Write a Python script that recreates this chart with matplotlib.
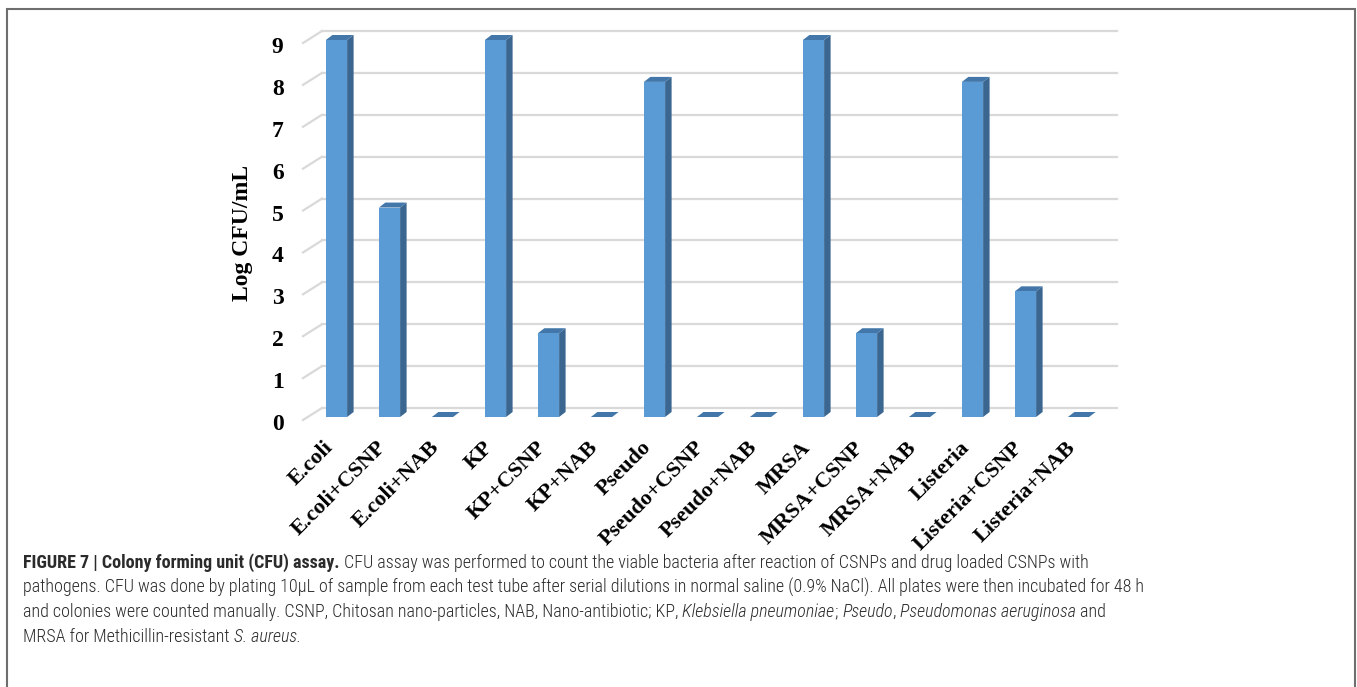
import numpy as np
import matplotlib.pyplot as plt
from matplotlib.patches import Polygon, Rectangle
import matplotlib.transforms as mtransforms

# data
categories = ['E.coli', 'E.coli+CSNP', 'E.coli+NAB', 'KP', 'KP+CSNP', 'KP+NAB',
              'Pseudo', 'Pseudo+CSNP', 'Pseudo+NAB', 'MRSA', 'MRSA+CSNP', 'MRSA+NAB',
              'Listeria', 'Listeria+CSNP', 'Listeria+NAB']
log_cfu = [9, 5, 0, 9, 2, 0, 8, 0, 0, 9, 2, 0, 8, 3, 0]
yticks = [0, 1, 2, 3, 4, 5, 6, 7, 8, 9]
ylabel = 'Log CFU/mL'

caption = [
    [("FIGURE 7 | Colony forming unit (CFU) assay.", 'bold', 'normal'),
     (" CFU assay was performed to count the viable bacteria after reaction of CSNPs and drug loaded CSNPs with", 'light', 'normal')],
    [("pathogens. CFU was done by plating 10\u03bcL of sample from each test tube after serial dilutions in normal saline (0.9% NaCl). All plates were then incubated for 48 h", 'light', 'normal')],
    [("and colonies were counted manually. CSNP, Chitosan nano-particles, NAB, Nano-antibiotic; KP, ", 'light', 'normal'),
     ("Klebsiella pneumoniae", 'light', 'italic'), ("; ", 'light', 'normal'),
     ("Pseudo", 'light', 'italic'), (", ", 'light', 'normal'),
     ("Pseudomonas aeruginosa", 'light', 'italic'), (" and", 'light', 'normal')],
    [("MRSA for Methicillin-resistant ", 'light', 'normal'), ("S. aureus.", 'light', 'italic')],
]

W, H = 1357, 687
fig = plt.figure(figsize=(W / 100, H / 100), dpi=100)
fig.patch.set_facecolor('white')

# plot area (front plane)
ax_l, ax_r, ax_t, ax_b = 310, 1105, 40, 417
ax = fig.add_axes([ax_l / W, 1 - ax_b / H, (ax_r - ax_l) / W, (ax_b - ax_t) / H])
ax.set_xlim(-0.5, len(categories) - 0.5)
ax.set_ylim(0, 9)
for s in ax.spines.values():
    s.set_visible(False)

px_x = len(categories) / (ax_r - ax_l)   # data units per pixel
px_y = 9 / (ax_b - ax_t)

front = '#5B9BD5'
side = '#3B6690'
top = '#4377AA'
grid_c = '#D9D9D9'

# back wall gridlines with 3d offset
wdx, wdy = 12 * px_x, 9 * px_y
x0, x1 = ax.get_xlim()
for y in yticks:
    ax.plot([x0 + wdx, x1 + wdx], [y + wdy, y + wdy], color=grid_c, lw=1.6,
            clip_on=False, zorder=1)
    ax.plot([x0 - 7 * px_x, x0 + wdx], [y - 3 * px_y, y + wdy], color=grid_c, lw=1.6,
            clip_on=False, zorder=1)

# 3d-looking bars
bw = 0.4
bdx, bdy = 6.5 * px_x, 5 * px_y
for i, v in enumerate(log_cfu):
    xl, xr = i - bw / 2, i + bw / 2
    sd = Polygon([(xr, 0), (xr + bdx, bdy), (xr + bdx, v + bdy), (xr, v)],
                 closed=True, facecolor=side, edgecolor='none', zorder=3, clip_on=False)
    tp = Polygon([(xl, v), (xl + bdx, v + bdy), (xr + bdx, v + bdy), (xr, v)],
                 closed=True, facecolor=top, edgecolor='none', zorder=3, clip_on=False)
    ax.add_patch(sd)
    ax.add_patch(tp)
    if v > 0:
        fr = Rectangle((xl, 0), bw, v, facecolor=front, edgecolor='none', zorder=4, clip_on=False)
        ax.add_patch(fr)

serif_bold = dict(family='Liberation Serif', weight='bold')

ax.set_yticks(yticks)
ax.set_yticklabels([str(t) for t in yticks], fontsize=17, **serif_bold)
ax.tick_params(axis='y', length=0, pad=19)
off = mtransforms.ScaledTranslation(0, -5 / 100, fig.dpi_scale_trans)
for lbl in ax.get_yticklabels():
    lbl.set_transform(lbl.get_transform() + off)

ax.set_xticks(range(len(categories)))
ax.set_xticklabels(categories, rotation=45, ha='right', va='center',
                   rotation_mode='anchor', fontsize=16, **serif_bold)
ax.tick_params(axis='x', length=0, pad=17)
offx = mtransforms.ScaledTranslation(-6 / 100, -4 / 100, fig.dpi_scale_trans)
for lbl in ax.get_xticklabels():
    lbl.set_transform(lbl.get_transform() + offx)

ax.set_ylabel(ylabel, fontsize=17, **serif_bold)
ax.yaxis.set_label_coords((253 - ax_l) / (ax_r - ax_l), (ax_b - 233) / (ax_b - ax_t))

# outer frame (open at the bottom)
frame = Rectangle((7 / W, -0.05), (1355 - 7) / W, 1 - 9 / H + 0.05, transform=fig.transFigure,
                  fill=False, edgecolor='#6E6E6E', lw=1.5, clip_on=False)
fig.add_artist(frame)

# caption, fitted to the width of the second line
cap_family = ['Roboto Condensed', 'Liberation Sans Narrow', 'Roboto', 'DejaVu Sans']
renderer = fig.canvas.get_renderer()
probe = fig.text(0, 0, caption[1][0][0], fontsize=12, family=cap_family, weight='light')
wp = probe.get_window_extent(renderer).width
probe.remove()
cap_size = 12 * (1149 - 23) / wp

baselines = [568, 593, 617, 642]
for line, yb in zip(caption, baselines):
    x = 23
    for txt, wt, st in line:
        t = fig.text(x / W, 1 - yb / H, txt, fontsize=cap_size, family=cap_family,
                     weight=wt, style=st, color='#2B2B2B', va='baseline', ha='left')
        x += t.get_window_extent(renderer).width

fig.savefig('out.png', dpi=100)
